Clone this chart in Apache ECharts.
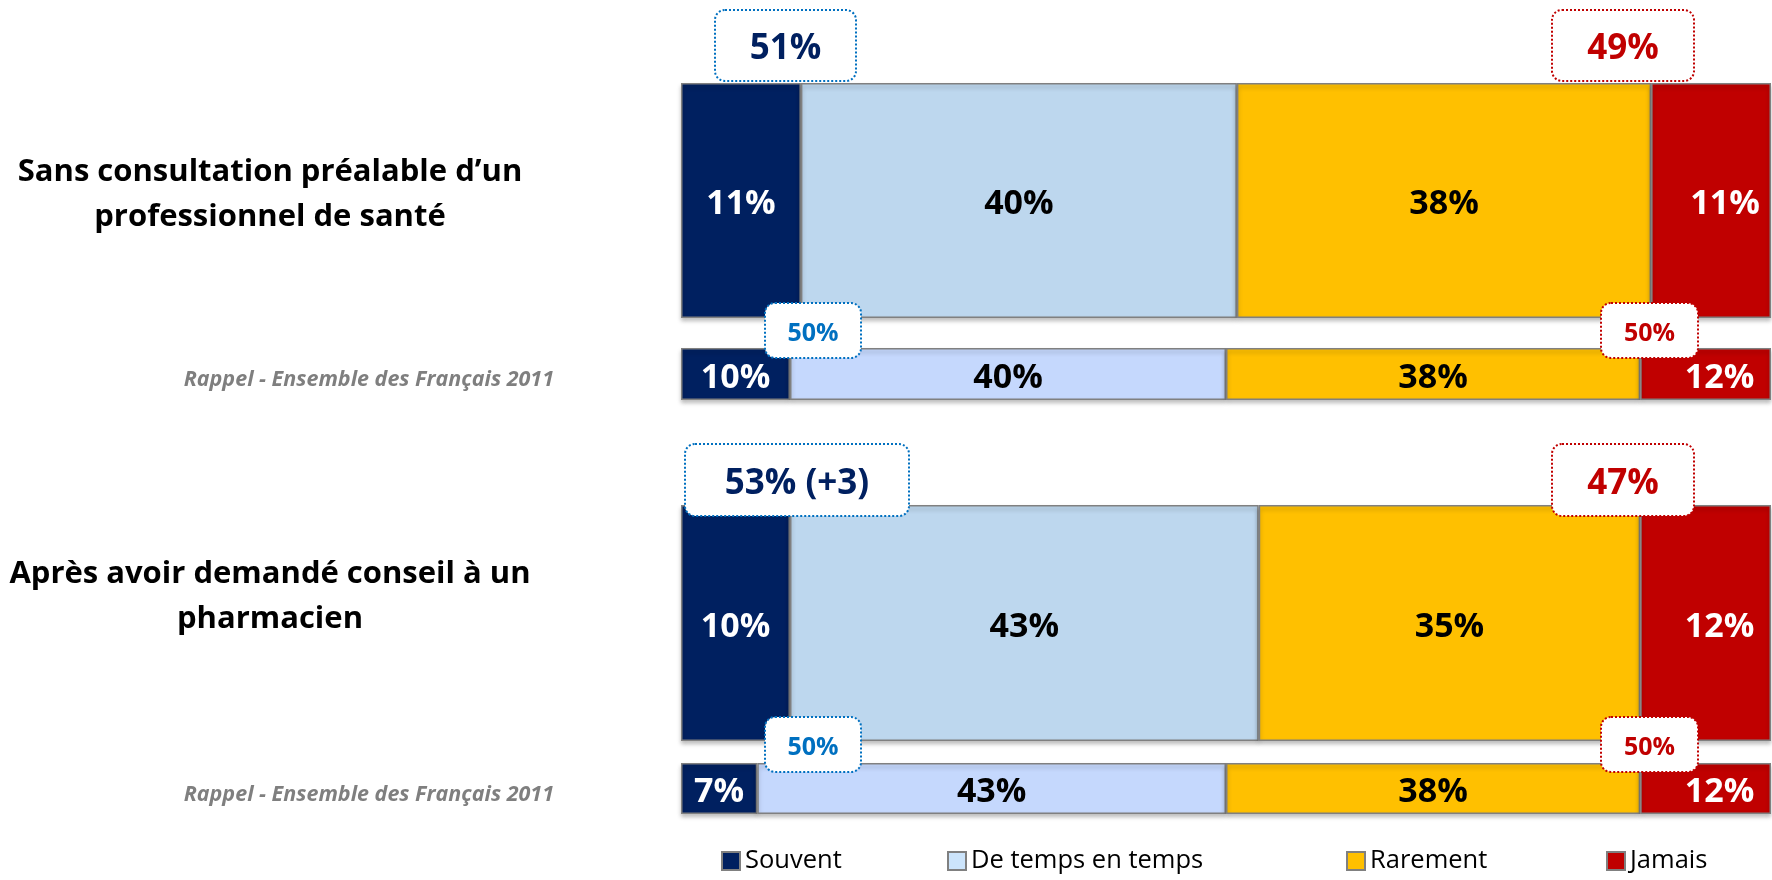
<!DOCTYPE html>
<html>
<head>
<meta charset="utf-8">
<script src="https://cdn.jsdelivr.net/npm/echarts@6/dist/echarts.min.js"></script>
<style>
  html, body { margin: 0; padding: 0; background: #fff; }
  #chart { width: 1772px; height: 880px; }
</style>
</head>
<body>
<div id="chart"></div>
<script>
// rows: main question, 2011 reminder, main question, 2011 reminder
const categories = [
  'Sans consultation préalable d’un\nprofessionnel de santé',
  'Rappel - Ensemble des Français 2011',
  'Après avoir demandé conseil à un\npharmacien',
  'Rappel - Ensemble des Français 2011'
]
const seriesNames = ['Souvent', 'De temps en temps', 'Rarement', 'Jamais']
const souvent = [11, 10, 10, 7]
const deTemps = [40, 40, 43, 43]
const rarement = [38, 38, 35, 38]
const jamais = [11, 12, 12, 12]
const showDelta = [false, false, true, false] // écart vs 2011 affiché seulement ici

const values = [souvent, deTemps, rarement, jamais]
const FONT = '"Open Sans", Lato, sans-serif'
const isRef = i => i % 2 === 1

// mise en page (pixels)
const gridLeft = 681
const rows = [
  { top: 83, height: 235 },
  { top: 348, height: 52 },
  { top: 505, height: 236 },
  { top: 763, height: 51 }
]
const labelLift = [12, 0, 52, 0] // remonte les libellés de gauche (moitié de la valeur)
const colorsMain = ['#002060', '#BDD7EE', '#FFC000', '#C00000']
const colorsRef = ['#002060', '#C5D8FD', '#FFC000', '#C00000']
const legendColors = ['#002060', '#CCE4FB', '#FFC000', '#C00000']
const labelColors = ['#fff', '#000', '#000', '#fff']
const legendLeft = [721, 947, 1346, 1606]

// encadrés pointillés (totaux positifs / négatifs)
const boxes = [
  { pos: [715, 10, 141, 71], neg: [1552, 10, 142, 71] },
  { pos: [765, 303, 96, 55], neg: [1601, 303, 97, 55] },
  { pos: [685, 444, 224, 72], neg: [1552, 444, 142, 72] },
  { pos: [765, 717, 96, 55], neg: [1601, 717, 97, 55] }
]

const chart = echarts.init(document.getElementById('chart'))

const grid = rows.map(r => ({ left: gridLeft, right: 1, top: r.top, height: r.height }))

const xAxis = rows.map((r, i) => ({
  gridIndex: i, type: 'value', min: 0, max: 100, show: false
}))

const yAxis = rows.map((r, i) => ({
  gridIndex: i,
  type: 'category',
  data: [categories[i]],
  axisLine: { show: false },
  axisTick: { show: false },
  axisLabel: isRef(i) ? {
    margin: 127, align: 'right', padding: [6, 0, 0, 0],
    formatter: v => '{r|' + v + '}',
    rich: { r: { padding: [6, 0, 0, 0], fontFamily: FONT, fontSize: 21.5, fontWeight: 'bold', fontStyle: 'italic', color: '#7F7F7F' } },
    fontFamily: FONT, fontSize: 21.5, fontWeight: 'bold', fontStyle: 'italic', color: '#7F7F7F'
  } : {
    margin: 411, align: 'center', lineHeight: 45,
    formatter: v => labelLift[i] ? v + '\n{sp| }' : v,
    rich: { sp: { height: labelLift[i], lineHeight: labelLift[i], fontSize: 1 } },
    fontFamily: FONT, fontSize: 31, fontWeight: 'bold', color: '#000'
  }
}))

const series = []
rows.forEach((r, i) => {
  seriesNames.forEach((name, k) => {
    series.push({
      type: 'bar',
      name: name,
      stack: 'row' + i,
      xAxisIndex: i,
      yAxisIndex: i,
      barWidth: '100%',
      data: [values[k][i]],
      itemStyle: {
        color: (isRef(i) ? colorsRef : colorsMain)[k],
        borderColor: '#808080',
        borderWidth: 1.5,
        shadowColor: 'rgba(0,0,0,0.25)',
        shadowBlur: 4,
        shadowOffsetY: 3
      },
      label: {
        show: true,
        position: 'inside',
        offset: k === 3 ? [14, 4] : [0, 4],
        formatter: p => p.value + '%',
        fontFamily: FONT,
        fontSize: 34,
        fontWeight: 'bold',
        color: labelColors[k]
      },
      emphasis: { disabled: true }
    })
  })
})

function callout(rect, text, color, fontSize) {
  const [x, y, w, h] = rect
  return [
    {
      type: 'rect',
      z: 100,
      shape: { x: x, y: y, width: w, height: h, r: 10 },
      style: { fill: '#fff', stroke: color, lineWidth: 2, lineDash: [2, 2] }
    },
    {
      type: 'text',
      z: 101,
      x: x + w / 2,
      y: y + h / 2 + (fontSize > 28 ? 4 : 3),
      style: {
        text: text,
        fill: color === '#0070C0' && fontSize > 28 ? '#002060' : color,
        font: 'bold ' + fontSize + 'px ' + FONT,
        align: 'center',
        verticalAlign: 'middle'
      }
    }
  ]
}

const graphic = []
rows.forEach((r, i) => {
  const pos = souvent[i] + deTemps[i]
  const neg = rarement[i] + jamais[i]
  let posText = pos + '%'
  if (showDelta[i]) {
    const d = pos - (souvent[i + 1] + deTemps[i + 1])
    posText += ' (' + (d > 0 ? '+' : '') + d + ')'
  }
  const size = isRef(i) ? 25 : 35
  graphic.push(...callout(boxes[i].pos, posText, '#0070C0', size))
  graphic.push(...callout(boxes[i].neg, neg + '%', '#C00000', size))
})

const legend = seriesNames.map((name, k) => ({
  data: [{ name: name, itemStyle: { color: legendColors[k] } }],
  left: legendLeft[k],
  top: 848,
  padding: 0,
  icon: 'rect',
  itemWidth: 18,
  itemHeight: 18,
  selectedMode: false,
  textStyle: { fontFamily: FONT, fontSize: 25.5, color: '#000' }
}))

chart.setOption({
  animation: false,
  backgroundColor: '#fff',
  grid: grid,
  xAxis: xAxis,
  yAxis: yAxis,
  legend: legend,
  series: series,
  graphic: graphic
})
</script>
</body>
</html>
